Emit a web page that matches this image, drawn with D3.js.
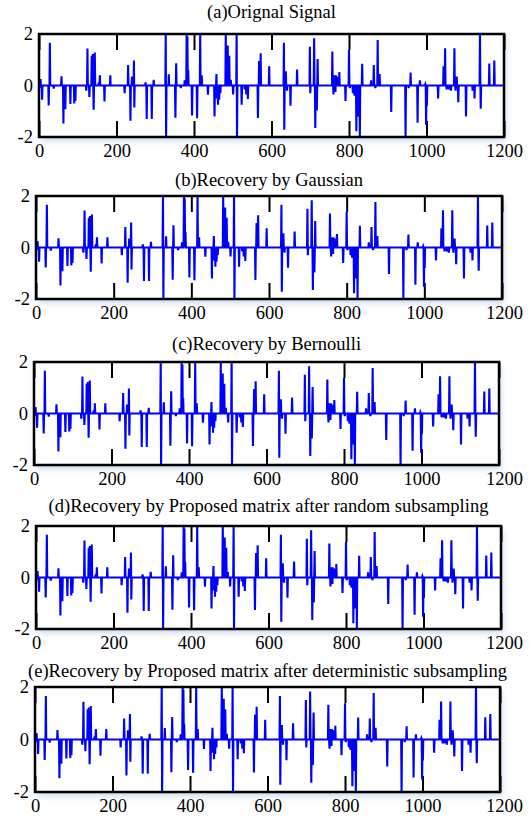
<!DOCTYPE html>
<html lang="en">
<head>
    <meta charset="UTF-8">
    <title>Sparse signal recovery</title>
    <script src="https://d3js.org/d3.v7.min.js"></script>
    <style>
        body { margin: 0; background: #fff; }
        text { font-family: "Liberation Serif", "Times New Roman", serif; fill: #000; }
    </style>
</head>
<body>
    <div id="chart"></div>
    <script>
        // chart data
        const titles = [
            "(a)Orignal Signal",
            "(b)Recovery by Gaussian",
            "(c)Recovery by Bernoulli",
            "(d)Recovery by Proposed matrix after random subsampling",
            "(e)Recovery by Proposed matrix after deterministic subsampling"
        ];
        const xTicks = [0, 200, 400, 600, 800, 1000, 1200];
        const yTicks = [-2, 0, 2];
        const signalLength = 1200;

        // non-zero samples of the sparse signal (index, amplitude)
        const spikeIdx = [
            4, 6, 8, 25, 28, 38, 58, 63, 68, 81, 91, 94,
            122, 125, 130, 136, 139, 141, 144, 154, 157, 169, 184,
            221, 230, 236, 240, 245, 246, 275, 278, 291, 296,
            327, 328, 335, 352, 354, 366, 376, 381, 383, 385, 395,
            408, 416, 420, 436, 453, 458, 459, 462, 465, 468,
            482, 487, 490, 491, 495, 501, 510, 511, 523, 531, 535, 539,
            565, 568, 572, 594, 632, 633, 637, 640, 649, 666,
            699, 700, 710, 713, 717, 719, 757, 760, 762, 765, 766, 769, 775, 791,
            800, 802, 810, 814, 819, 823, 828, 834, 857, 864, 868, 874, 879,
            909, 946, 954, 959, 977, 983, 997, 999, 1001,
            1030, 1044, 1048, 1052, 1058, 1063, 1072, 1075, 1078, 1082,
            1102, 1119, 1124, 1138, 1140, 1162, 1175
        ];
        const spikeVal = [
            0.25, -0.1, -0.55, -0.78, 1.66, -0.12, 0.36, -1.48, -0.92, -0.72, -0.7, -0.6,
            -0.2, 1.44, -0.45, 1.15, 1.22, -0.94, 1.28, 0.12, 0.4, -0.62, 0.4,
            -0.3, 0.8, -1.37, 0.35, 0.97, -0.85, 0.12, -1.3, -1.3, 0.22,
            2.1, -2.1, 0.44, -1.25, 0.86, -0.1, 0.2, 2.05, 1.9, 0.6, -1.16,
            -1.27, 2.05, 0.4, -0.36, -1.2, 0.45, -0.5, -0.75, -0.55, -0.3,
            2.05, 1.55, 0.3, 1.15, 0.22, -0.35, 2.1, -2.1, -0.75, -0.15, -0.35, -0.52,
            -1.26, 0.95, 1.25, 0.75, 1.66, -1.72, 0.55, -0.2, -0.79, 0.62,
            1.5, -0.3, 1.83, -1.65, -0.97, 1.03, 1.32, -0.35, 0.4, -0.25, 0.4, 0.35, 0.52, -0.6,
            1.38, -0.1, -0.3, -0.4, -1.78, -1.2, -2.05, 0.84, 0.2, 0.8, -0.1, 1.77, 0.45,
            -1.03, -2.05, -0.1, 0.5, -1.45, 0.2, 0.05, -1.52, -0.8,
            -0.5, 0.75, 1.45, -0.15, -0.15, -0.2, 1.45, -0.2, 0.35, -0.65,
            -1.2, -0.2, -0.5, 2.05, -0.9, 0.85, 0.97
        ];

        const signal = new Array(signalLength).fill(0);
        spikeIdx.forEach((k, i) => { signal[k] = spikeVal[i]; });

        // panel frames (pixels)
        const panels = [
            { left: 39, right: 504, top: 34, bottom: 137, titleY: 18 },
            { left: 36, right: 502, top: 196, bottom: 299, titleY: 186 },
            { left: 34, right: 499, top: 362, bottom: 465, titleY: 350 },
            { left: 36, right: 501, top: 526, bottom: 629, titleY: 512 },
            { left: 35, right: 500, top: 687, bottom: 792, titleY: 677 }
        ];

        const fontSize = 18.5;

        const svg = d3.select("#chart")
            .append("svg")
            .attr("width", 529)
            .attr("height", 819);

        const defs = svg.append("defs");
        defs.append("filter")
            .attr("id", "glow")
            .attr("x", "-10%").attr("y", "-20%")
            .attr("width", "120%").attr("height", "150%")
            .append("feDropShadow")
            .attr("dx", 2).attr("dy", 4)
            .attr("stdDeviation", 3)
            .attr("flood-color", "#9dbbe3")
            .attr("flood-opacity", 0.55);

        panels.forEach((p, k) => {
            const x = d3.scaleLinear().domain([0, signalLength]).range([p.left, p.right]);
            const y = d3.scaleLinear().domain([-2, 2]).range([p.bottom, p.top]);

            const g = svg.append("g");

            g.append("rect")
                .attr("x", p.left).attr("y", p.top)
                .attr("width", p.right - p.left).attr("height", p.bottom - p.top)
                .attr("fill", "#fff")
                .attr("filter", "url(#glow)");

            defs.append("clipPath")
                .attr("id", "clip" + k)
                .append("rect")
                .attr("x", p.left).attr("y", p.top)
                .attr("width", p.right - p.left).attr("height", p.bottom - p.top);

            // inward ticks on top and bottom
            const bottomAxis = g.append("g")
                .attr("transform", `translate(0,${p.bottom})`)
                .call(d3.axisBottom(x).tickValues(xTicks).tickSize(-16).tickPadding(7)
                    .tickFormat(d => String(d)));
            g.append("g")
                .attr("transform", `translate(0,${p.top})`)
                .call(d3.axisTop(x).tickValues(xTicks).tickSize(-16).tickFormat(""));
            g.append("g")
                .attr("transform", `translate(${p.left},0)`)
                .call(d3.axisLeft(y).tickValues(yTicks).tickSize(0).tickPadding(6)
                    .tickFormat(d => String(d)));

            g.selectAll(".domain").remove();
            g.selectAll(".tick line").attr("stroke", "#000").attr("stroke-width", 2);
            g.selectAll(".tick text")
                .style("font-family", '"Liberation Serif", "Times New Roman", serif')
                .style("font-size", fontSize + "px")
                .attr("fill", "#000");
            bottomAxis.selectAll(".tick text")
                .filter(d => d === 1200)
                .attr("dx", 504 - p.right);

            // signal
            g.append("path")
                .datum(signal)
                .attr("clip-path", `url(#clip${k})`)
                .attr("fill", "none")
                .attr("stroke", "#0000ff")
                .attr("stroke-width", 2.1)
                .attr("stroke-linejoin", "miter")
                .attr("d", d3.line().x((d, i) => x(i)).y(d => y(d)));

            // frame
            g.append("rect")
                .attr("x", p.left).attr("y", p.top)
                .attr("width", p.right - p.left).attr("height", p.bottom - p.top)
                .attr("fill", "none")
                .attr("stroke", "#000")
                .attr("stroke-width", 2.5);

            g.append("text")
                .attr("x", (p.left + p.right) / 2)
                .attr("y", p.titleY)
                .attr("text-anchor", "middle")
                .style("font-size", fontSize + "px")
                .text(titles[k]);
        });
    </script>
</body>
</html>
